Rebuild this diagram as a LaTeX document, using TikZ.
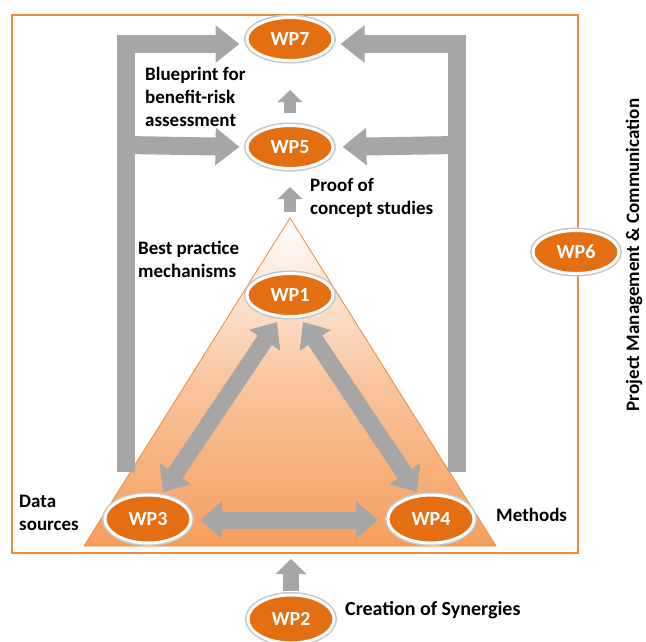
\documentclass[tikz,border=0pt]{standalone}
\usepackage{fontspec}
\setmainfont{Carlito}
\usetikzlibrary{shapes.geometric,arrows.meta}
\definecolor{wporange}{RGB}{228,110,18}
\definecolor{frameorange}{RGB}{236,140,62}
\definecolor{arrowgray}{RGB}{166,166,166}
\definecolor{trifill}{RGB}{245,158,92}
\begin{document}
\begin{tikzpicture}[x=1pt,y=-1pt,
  wp/.style={ellipse, fill=wporange, draw=white, line width=3pt,
    minimum width=86pt, minimum height=43pt, inner sep=0pt, text=white,
    font=\bfseries\fontsize{20}{24}\selectfont,
    preaction={draw=black!22, line width=6pt}},
  wpbig/.style={wp, minimum height=48pt},
  lbl/.style={font=\bfseries\fontsize{19}{23}\selectfont, align=left, inner sep=0pt, anchor=west},
  bigarrow/.style={draw=arrowgray, line width=18pt, line join=miter,
    -{Triangle[length=24pt,width=36pt]}},
  bigdouble/.style={draw=arrowgray, line width=17pt,
    {Triangle[length=22pt,width=36pt]}-{Triangle[length=22pt,width=36pt]}},
  smallarrow/.style={draw=arrowgray, line width=12pt,
    -{Triangle[length=12pt,width=24pt]}},
  midarrow/.style={draw=arrowgray, line width=16pt,
    -{Triangle[length=15pt,width=30pt]}}
]
\useasboundingbox (0,0) rectangle (646,641);
% frame
\node[draw=frameorange, line width=2pt, fill=white, minimum width=566pt,
  minimum height=538pt, inner sep=0pt] (frame) at (295,284) {};
% triangle
\coordinate (apex) at (290,218);
\coordinate (bl) at (84,546);
\coordinate (br) at (496,546);
\shade[top color=white, bottom color=trifill, middle color=trifill!60]
  (apex) -- (bl) -- (br) -- cycle;
\draw[frameorange, line width=0.8pt] (apex) -- (bl) -- (br) -- cycle;
% nodes
\node[wp] (WP7) at (290,39) {WP7};
\node[wp] (WP5) at (290,147) {WP5};
\node[wp] (WP1) at (290,295) {WP1};
\node[wpbig] (WP3) at (148,519) {WP3};
\node[wpbig] (WP4) at (431,519) {WP4};
\node[wpbig] (WP2) at (291,619) {WP2};
\node[wp] (WP6) at (576,252) {WP6};
% bar coordinates
\coordinate (lb) at (126,472);
\coordinate (lm) at (126,145);
\coordinate (rb) at (457,472);
\coordinate (rm) at (457,145);
% gray feedback arrows
\draw[bigarrow, shorten >=6pt] (lb) |- ([yshift=-5pt]WP7.west);
\draw[bigarrow, shorten >=6pt] (rb) |- ([yshift=-5pt]WP7.east);
\draw[bigarrow, shorten >=6pt] (lm) -- (WP5.west);
\draw[bigarrow, shorten >=8pt] (rm) -- (WP5.east);
% small arrows
\draw[smallarrow] ([yshift=11pt]WP5.north) -- ([yshift=-28pt]WP7.south);
\draw[smallarrow, shorten <=6pt] (apex) -- ([yshift=-17pt]WP5.south);
\draw[midarrow, shorten <=3pt, shorten >=5pt] (WP2.north) -- (WP2.north|-frame.south);
% double arrows
\draw[bigdouble] ([shift={(-13,27)}]WP1.center) -- ([shift={(15,-27)}]WP3.center);
\draw[bigdouble] ([shift={(13,27)}]WP1.center) -- ([shift={(-14,-27)}]WP4.center);
\draw[bigdouble] ([shift={(52,1)}]WP3.center) -- ([shift={(-53,1)}]WP4.center);
% labels
\node[lbl] (blue) at (145,97) {Blueprint for\\benefit-risk\\assessment};
\node[lbl] (proof) at (310,198) {Proof of\\concept studies};
\node[lbl] (best) at (138,259) {Best practice\\mechanisms};
\node[lbl] (data) at (19,513) {Data\\sources};
\node[lbl] (meth) at (496,515) {Methods};
\node[lbl, font=\bfseries\fontsize{20}{24}\selectfont] (syn) at (345,610) {Creation of Synergies};
\node[lbl, anchor=center, rotate=90] (pm) at (634,255) {Project Management \& Communication};
\end{tikzpicture}
\end{document}
